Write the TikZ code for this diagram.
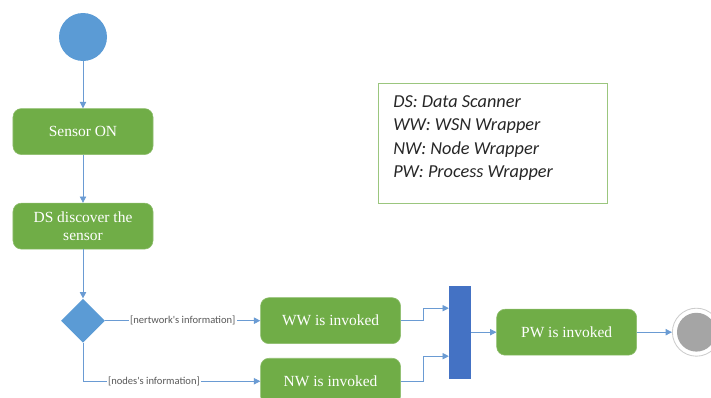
\documentclass[tikz,border=0pt]{standalone}
\usepackage{fontspec}
\setmainfont{Liberation Serif}
\newfontfamily\calfont{Carlito}
\usetikzlibrary{positioning,shapes.geometric,arrows.meta}

\definecolor{actgreen}{HTML}{70AD47}
\definecolor{flowblue}{HTML}{5B9BD5}
\definecolor{barblue}{HTML}{4472C4}
\definecolor{edgeblue}{HTML}{6A9BD3}
\definecolor{endgray}{HTML}{A5A5A5}

\tikzset{
  action/.style={rectangle, rounded corners=6pt, fill=actgreen, draw=actgreen!80!white,
    minimum width=3.5cm, minimum height=1.15cm, inner sep=2pt, text=white, align=center,
    font=\fontsize{11}{12.5}\selectfont},
  flow/.style={draw=edgeblue, line width=0.6pt, -{Triangle[length=4.5pt,width=4.5pt]}},
  guard/.style={fill=white, text=black!65, inner sep=1pt, font=\calfont\fontsize{7.5}{9}\selectfont},
}

\begin{document}
\begin{tikzpicture}
  \useasboundingbox (0,0) rectangle (17.775,-9.925);

  \node [circle, fill=flowblue, minimum size=1.2cm, inner sep=0pt] (start) at (2.075,-0.925) {};
  \node [action, below=1.175cm of start] (sensor) {Sensor ON};
  \node [action, below=1.2cm of sensor] (ds) {DS discover the\\sensor};
  \node [diamond, fill=flowblue, minimum width=1.1cm, minimum height=1.1cm, inner sep=0pt,
    below=1.225cm of ds] (dec) {};
  \node [action, right=3.875cm of dec] (ww) {WW is invoked};
  \node [action, below=0.35cm of ww] (nw) {NW is invoked};
  \node [rectangle, fill=barblue, minimum width=0.55cm, minimum height=2.325cm, inner sep=0pt,
    right=1.2cm of ww, yshift=-0.2875cm] (bar) {};
  \node [action, right=0.625cm of bar] (pw) {PW is invoked};
  \node [circle, draw=black!20, fill=white, line width=0.6pt, minimum size=1.2cm, inner sep=0pt,
    right=0.875cm of pw] (endring) {};
  \node [circle, fill=endgray, minimum size=0.97cm, inner sep=0pt] (endcore) at (endring) {};

  % legend
  \node [rectangle, draw=actgreen!70!white, line width=0.8pt, minimum width=5.725cm,
    minimum height=3cm, anchor=north west] (legend) at (9.45,-2.075) {};
  \node [anchor=north west, inner sep=0pt, align=left, text=black!85,
    font=\calfont\itshape\fontsize{13}{16.4}\selectfont] (legendtxt)
    at ([xshift=0.375cm, yshift=-0.32cm]legend.north west)
    {DS: Data Scanner\\WW: WSN Wrapper\\NW: Node Wrapper\\PW: Process Wrapper};

  \draw [flow] (start) -- (sensor);
  \draw [flow] (sensor) -- (ds);
  \draw [flow] (ds) -- (dec);
  \draw [flow] (dec) -- node [guard] {[nertwork's information]} (ww);
  \draw [flow] (dec) |- node [guard, pos=0.7] {[nodes's information]} (nw);
  \draw [flow] (ww.east) -- ++(0.575,0) |- ([yshift=0.6cm]bar.west);
  \draw [flow] (nw.east) -- ++(0.575,0) |- ([yshift=-0.6cm]bar.west);
  \draw [flow] (bar) -- (pw);
  \draw [flow] (pw) -- (endring);
\end{tikzpicture}
\end{document}
